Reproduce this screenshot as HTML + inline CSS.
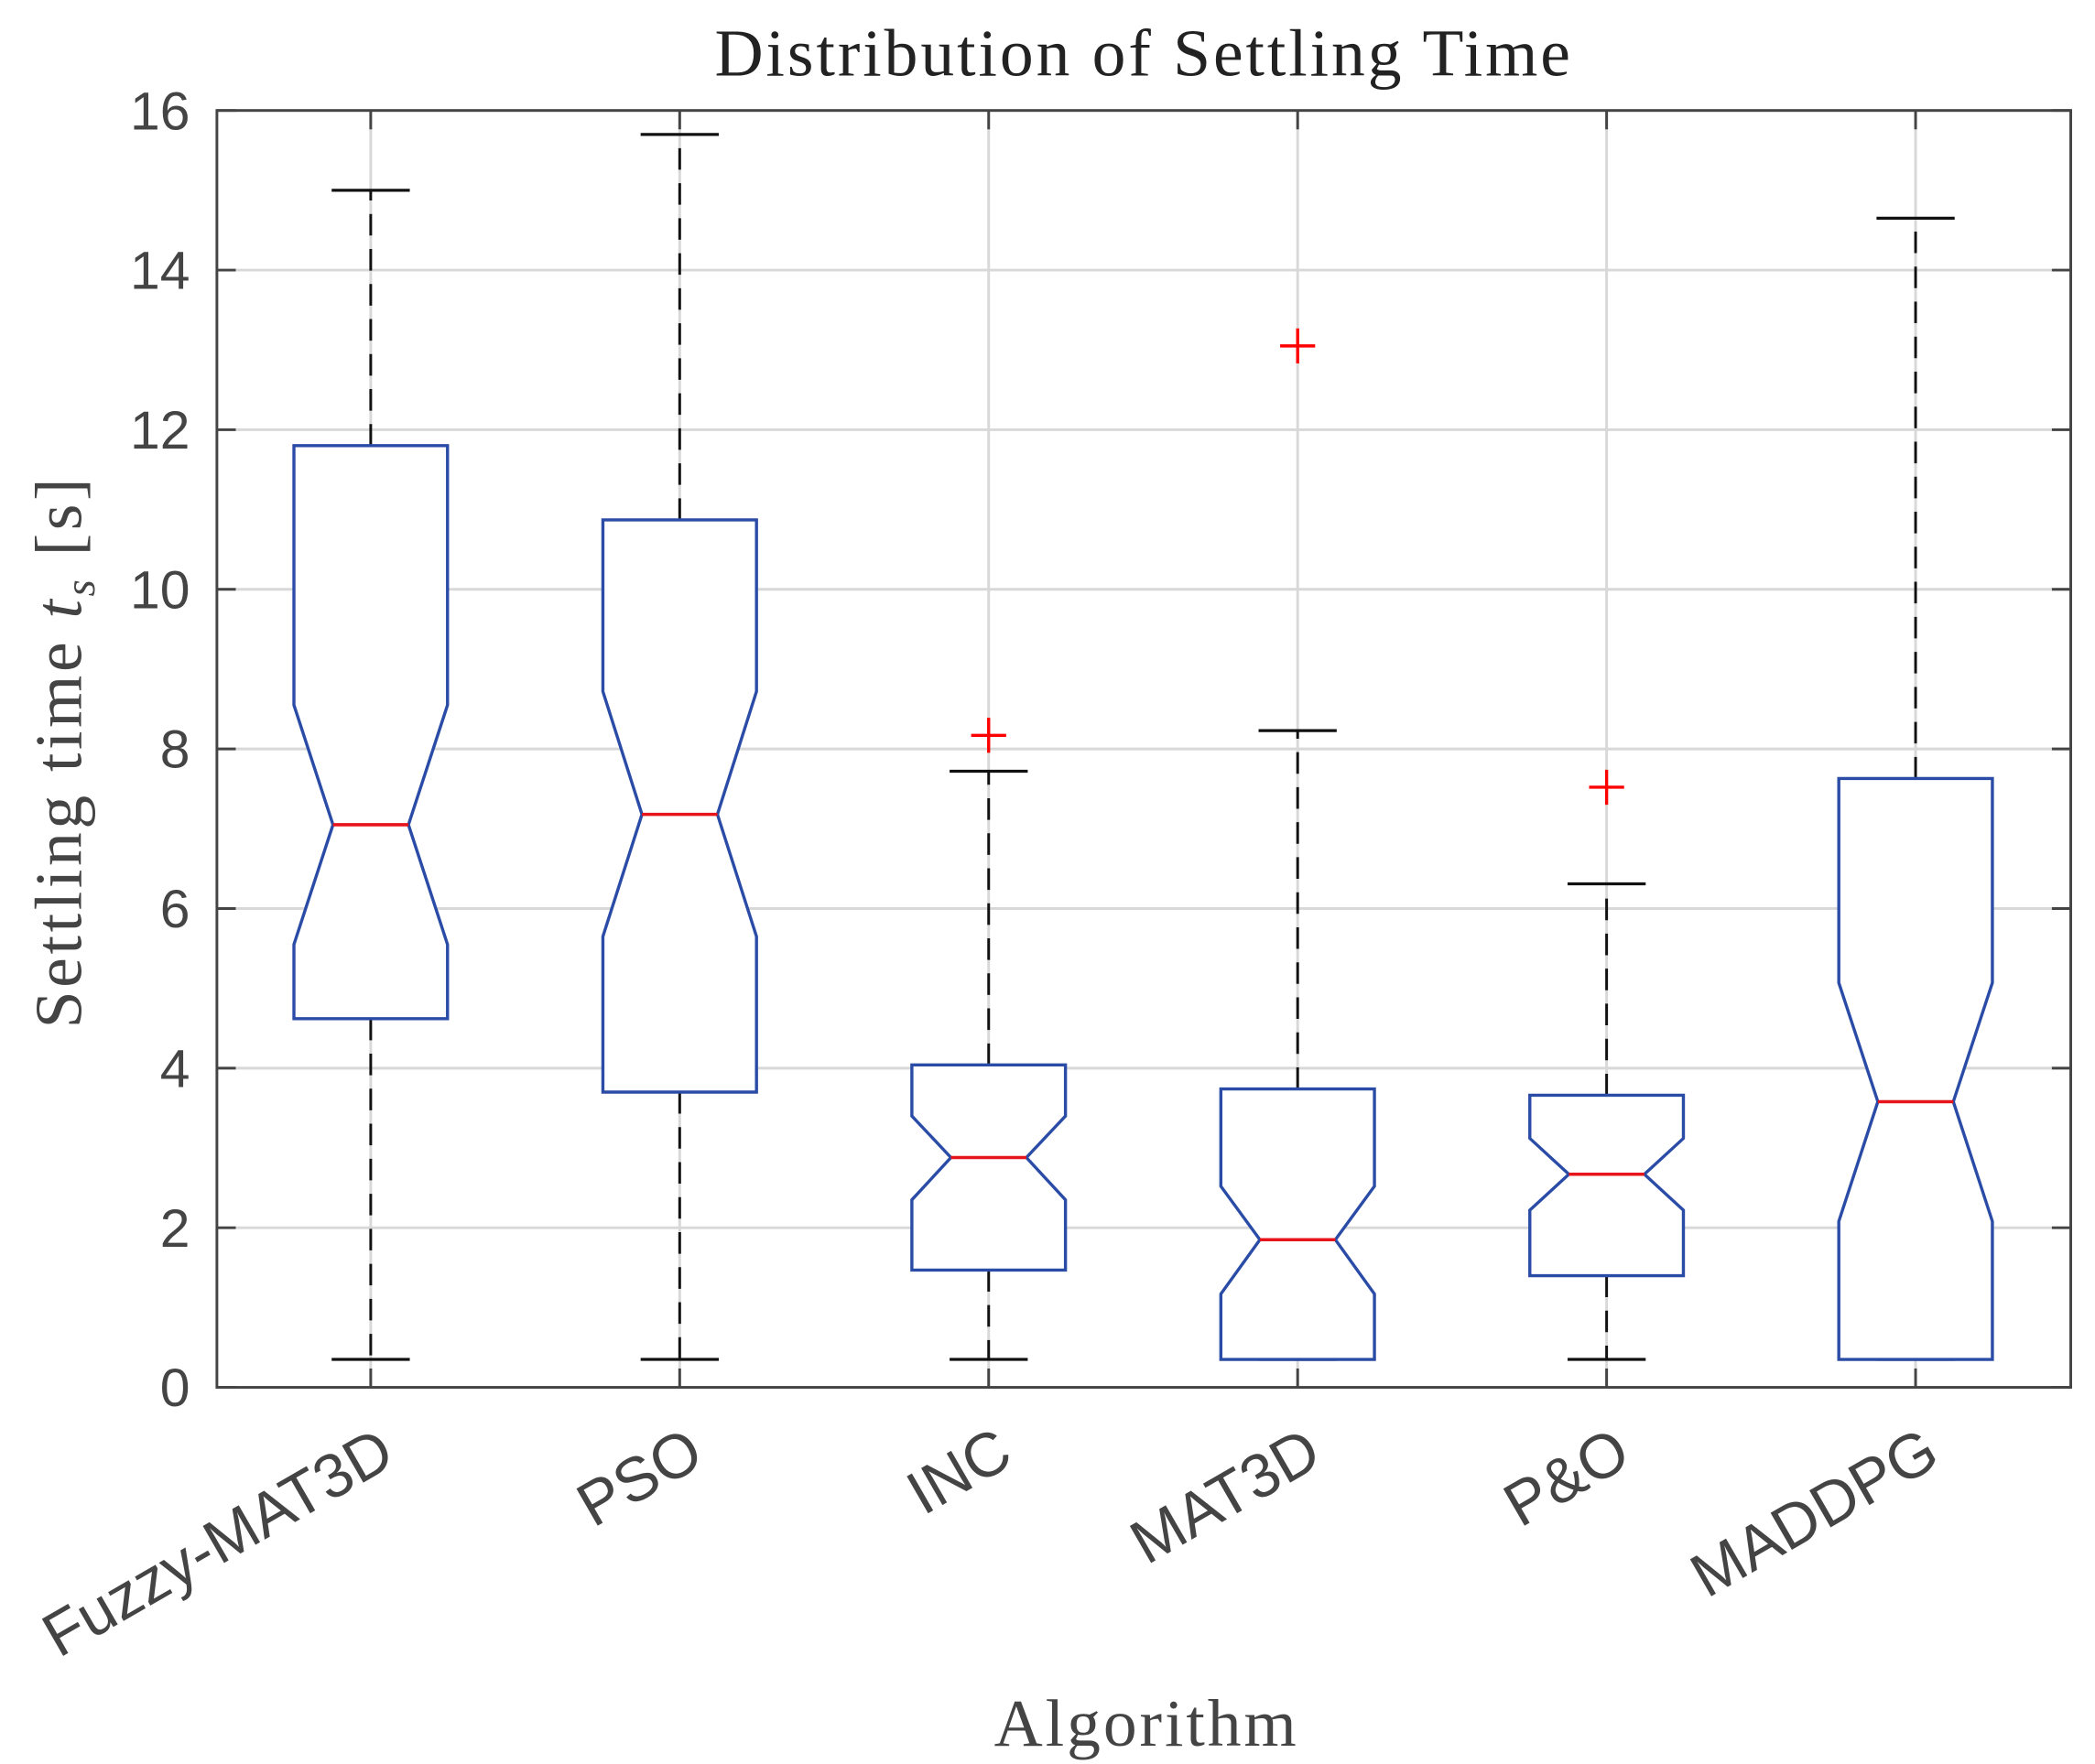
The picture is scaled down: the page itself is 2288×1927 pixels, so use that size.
<!DOCTYPE html>
<html><head><meta charset="utf-8"><style>
html,body{margin:0;padding:0;background:#fff;}
svg{display:block;}
</style></head><body>
<svg id="chart" width="2288" height="1927" viewBox="0 0 1555 1309.6" xmlns="http://www.w3.org/2000/svg">
<rect x="0" y="0" width="1555" height="1310" fill="#fff"/>
<g id="grid"></g>
<g id="boxes"></g>
<rect x="161" y="82" width="1376" height="948" fill="none" stroke="#444" stroke-width="2"/>
<g id="ticks"></g>
<text x="849" y="56" text-anchor="middle" font-family="Liberation Serif, serif" font-size="50" letter-spacing="2" fill="#222">Distribution of Settling Time</text>
<text x="851" y="1296" text-anchor="middle" font-family="Liberation Serif, serif" font-size="50" letter-spacing="2" fill="#444">Algorithm</text>
<text transform="translate(60,558) rotate(-90)" text-anchor="middle" font-family="Liberation Serif, serif" font-size="50" letter-spacing="2.5" fill="#444">Settling time <tspan font-style="italic">t</tspan><tspan font-style="italic" font-size="32" dy="10">s</tspan><tspan dy="-10">  [s]</tspan></text>
</svg>
<script>
const categories=["Fuzzy-MAT3D","PSO","INC","MAT3D","P&O","MADDPG"];
const whiskerLow=[0.35,0.35,0.35,0.35,0.35,0.35];
const whiskerHigh=[15.0,15.7,7.72,8.23,6.31,14.65];
const q1=[4.62,3.7,1.47,0.35,1.4,0.35];
const q3=[11.8,10.87,4.04,3.74,3.66,7.63];
const medians=[7.05,7.18,2.88,1.85,2.67,3.58];
const notchLow=[5.55,5.65,2.35,1.17,2.22,2.08];
const notchHigh=[8.55,8.72,3.4,2.52,3.12,5.07];
const outliers=[[],[],[8.17],[13.05],[7.52],[]];
const yTicks=[0,2,4,6,8,10,12,14,16];
const NS="http://www.w3.org/2000/svg";
const L=161,R=1537,T=82,B=1030;
const y=v=>B-(v/16)*(B-T);
const xStep=(R-L)/6;
const x=i=>L+xStep*(i+0.5)-0.5;
function mk(tag,attrs,parent){const e=document.createElementNS(NS,tag);for(const k in attrs)e.setAttribute(k,attrs[k]);parent.appendChild(e);return e;}
const grid=document.getElementById('grid'),boxes=document.getElementById('boxes'),ticks=document.getElementById('ticks');
yTicks.forEach(v=>{
  const g=mk('line',{x1:L,x2:R,y1:y(v),y2:y(v),stroke:'#d8d8d8','stroke-width':2},grid);
  
  
  const t1=mk('line',{x1:L,x2:L+14,y1:y(v),y2:y(v),stroke:'#444','stroke-width':2},ticks);
  
  
  const t2=mk('line',{x1:R-14,x2:R,y1:y(v),y2:y(v),stroke:'#444','stroke-width':2},ticks);
  
  
  const lb=mk('text',{x:L-20,y:y(v)+14,'text-anchor':'end','font-family':'Liberation Sans, sans-serif','font-size':40,fill:'#444'},ticks);
  lb.textContent=v;
  
  
});
categories.forEach((c,i)=>{
  const cx=x(i);
  const g=mk('line',{x1:cx,x2:cx,y1:T,y2:B,stroke:'#d8d8d8','stroke-width':2},grid);
  
  
  const t1=mk('line',{x1:cx,x2:cx,y1:B-14,y2:B,stroke:'#444','stroke-width':2},ticks);
  
  
  const t2=mk('line',{x1:cx,x2:cx,y1:T,y2:T+14,stroke:'#444','stroke-width':2},ticks);
  
  
  const lb=mk('text',{transform:`translate(${cx+20},${B+56}) rotate(-30)`,'text-anchor':'end','font-family':'Liberation Sans, sans-serif','font-size':46,fill:'#444'},ticks);
  lb.textContent=c;
  
  
  const hw=57,nw=28;
  const w1=mk('line',{x1:cx,x2:cx,y1:y(q3[i]),y2:y(whiskerHigh[i]),stroke:'#111','stroke-width':2,'stroke-dasharray':'16,10'},boxes);
  
  
  const w2=mk('line',{x1:cx,x2:cx,y1:y(q1[i]),y2:y(whiskerLow[i]),stroke:'#111','stroke-width':2,'stroke-dasharray':'16,10'},boxes);
  
  
  const c1=mk('line',{x1:cx-29,x2:cx+29,y1:y(whiskerHigh[i]),y2:y(whiskerHigh[i]),stroke:'#111','stroke-width':2.2},boxes);
  
  
  const c2=mk('line',{x1:cx-29,x2:cx+29,y1:y(whiskerLow[i]),y2:y(whiskerLow[i]),stroke:'#111','stroke-width':2.2},boxes);
  
  
  const pts=[[cx-hw,y(q1[i])],[cx-hw,y(notchLow[i])],[cx-nw,y(medians[i])],[cx-hw,y(notchHigh[i])],[cx-hw,y(q3[i])],[cx+hw,y(q3[i])],[cx+hw,y(notchHigh[i])],[cx+nw,y(medians[i])],[cx+hw,y(notchLow[i])],[cx+hw,y(q1[i])]];
  const bx=mk('polygon',{points:pts.map(p=>p.join(',')).join(' '),fill:'#fff',stroke:'#2a4ca6','stroke-width':2.3},boxes);
  
  
  const md=mk('line',{x1:cx-nw,x2:cx+nw,y1:y(medians[i]),y2:y(medians[i]),stroke:'#e8141b','stroke-width':2.4},boxes);
  
  
  outliers[i].forEach(o=>{
    const ol=mk('path',{d:`M${cx-13},${y(o)}H${cx+13}M${cx},${y(o)-13}V${y(o)+13}`,stroke:'#f00','stroke-width':2.3,fill:'none'},boxes);
    
    
  });
});
</script>
</body></html>
